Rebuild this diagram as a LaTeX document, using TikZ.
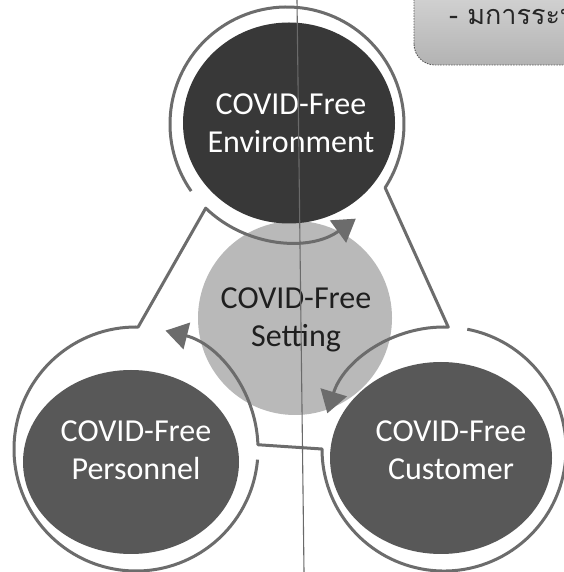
\documentclass[tikz,border=0pt]{standalone}
\usepackage{fontspec}
\setmainfont{Carlito}
\newfontfamily\thaifont[Script=Thai]{Loma}
\usetikzlibrary{shapes.geometric,arrows.meta,calc,shadings}
\definecolor{topdark}{HTML}{383838}
\definecolor{sidedark}{HTML}{585858}
\definecolor{setfill}{HTML}{B9B9B9}
\definecolor{ringgray}{HTML}{6C6C6C}
\definecolor{guttergray}{HTML}{6A6A6A}
\begin{document}
\begin{tikzpicture}[x=1pt,y=1pt,
  ring/.style={draw=ringgray, line width=3pt, line join=round},
  arrowring/.style={ring, -{Triangle[length=22pt,width=27pt]}},
  bigtext/.style={font=\fontsize{32}{38}\selectfont, align=center, inner sep=0pt},
  darkdisk/.style={ellipse, inner sep=0pt, draw=none},
  gutter/.style={draw=guttergray, line width=1.1pt},
]
\useasboundingbox (0,0) rectangle (563,572);
\fill[white] (0,0) rectangle (563,572);

% ring centres
\coordinate (Tc) at (287,448);
\coordinate (Pc) at (136,123);
\coordinate (Cc) at (444,123);

% centre disk and the three dark disks
\node[circle, fill=setfill, minimum size=194pt, inner sep=0pt] (S) at (295,254) {};
\node[darkdisk, fill=topdark, minimum width=212pt, minimum height=201pt] (E) at (289,449) {};
\node[darkdisk, fill=sidedark, minimum width=216pt, minimum height=184pt] (P) at (131,110) {};
\node[darkdisk, fill=sidedark, minimum width=222pt, minimum height=192pt] (C) at (441,114) {};

% ring paths
\draw[arrowring] ($(Tc)+(215:117)$) arc[start angle=215,end angle=-33,radius=117]
  -- ($(Cc)+(88:122)$) arc[start angle=88,end angle=163,radius=122];
\draw[arrowring] ($(Cc)+(79:122)$) arc[start angle=79,end angle=-180,radius=122]
  -- ($(Pc)+(2:122)$) arc[start angle=2,end angle=76,radius=122];
\draw[arrowring] ($(Pc)+(-5:122)$) arc[start angle=-5,end angle=-271,radius=122]
  -- ($(Tc)+(226:117)$) arc[start angle=226,end angle=306,radius=117];

% texts
\node[bigtext, text=white] (Et) at (291,449) {COVID-Free\\Environment};
\node[bigtext, text=black!88] (St) at (296,252) {COVID-Free\\Setting};
\node[bigtext, text=white] (Pt) at (136,122) {COVID-Free\\Personnel};
\node[bigtext, text=white] (Ct) at (451,122) {COVID-Free\\Customer};

% note box at top right
\draw[draw=black!65, dash pattern=on 1.5pt off 1.2pt, line width=0.9pt,
      rounded corners=21pt, top color=white!90!black, bottom color=black!30]
  (414,507) rectangle (640,620);
\node[anchor=base west, inner sep=0pt, font=\thaifont\fontsize{27}{32}\selectfont, text=black!85] (note) at (449,547) {- มการระบ};

% page gutter line
\coordinate (G1) at (297,572);
\coordinate (G2) at (304,0);
\draw[gutter] (G1) -- (G2);
\end{tikzpicture}
\end{document}
